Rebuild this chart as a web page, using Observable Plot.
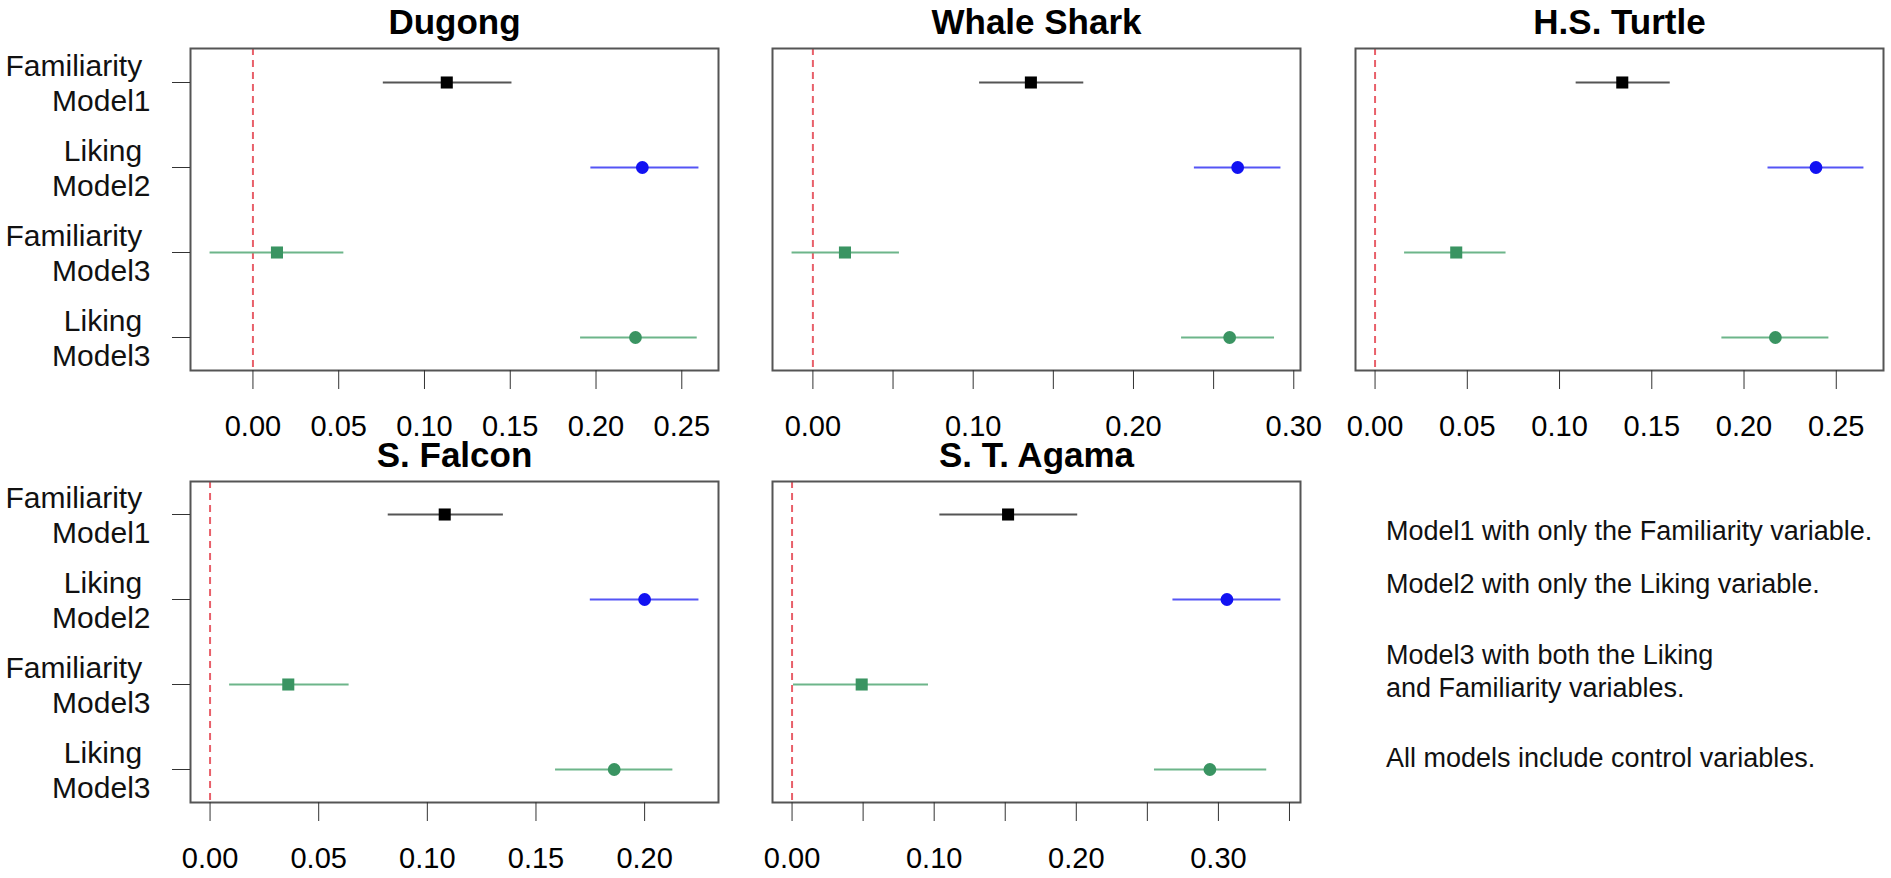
<!DOCTYPE html>
<html>
<head>
<meta charset="utf-8">
<script src="https://cdn.jsdelivr.net/npm/d3@7"></script>
<script src="https://cdn.jsdelivr.net/npm/@observablehq/plot@0.6"></script>
<style>
  html, body { margin: 0; padding: 0; background: #ffffff; }
  #chart { position: relative; width: 1891px; height: 878px; overflow: hidden; background: #fff;
           font-family: "Liberation Sans", Arial, Helvetica, sans-serif; }
  #chart > svg, #chart > figure { position: absolute; margin: 0; }
</style>
</head>
<body>
<div id="chart"></div>
<script>
// ---------------- data ----------------
const species = ["Dugong", "Whale Shark", "H.S. Turtle", "S. Falcon", "S. T. Agama"];
const rowKeys = ["Fam1", "Lik2", "Fam3", "Lik3"];
const rowLabels = ["Familiarity\u00a0\nModel1", "Liking\u00a0\nModel2", "Familiarity\u00a0\nModel3", "Liking\u00a0\nModel3"];
const rowVariables = ["Familiarity", "Liking", "Familiarity", "Liking"];
const pointColors = ["#000000", "#1212f2", "#3a9462", "#3a9462"];
const lineColors = ["#555555", "#5555f5", "#6db58a", "#6db58a"];

// estimates per species, rows: Fam M1, Lik M2, Fam M3, Lik M3
const estimates = [
  [0.113, 0.227, 0.014, 0.223],
  [0.136, 0.265, 0.020, 0.260],
  [0.134, 0.239, 0.044, 0.217],
  [0.108, 0.200, 0.036, 0.186],
  [0.152, 0.306, 0.049, 0.294]
];
const lowers = [
  [0.076, 0.197, -0.025, 0.191],
  [0.104, 0.238, -0.013, 0.230],
  [0.109, 0.213, 0.016, 0.188],
  [0.082, 0.175, 0.009, 0.159],
  [0.104, 0.268, 0.001, 0.255]
];
const uppers = [
  [0.151, 0.260, 0.053, 0.259],
  [0.169, 0.292, 0.054, 0.288],
  [0.160, 0.265, 0.071, 0.246],
  [0.135, 0.225, 0.064, 0.213],
  [0.201, 0.344, 0.096, 0.334]
];
const tickValues = [
  [0, 0.05, 0.10, 0.15, 0.20, 0.25],
  [0, 0.05, 0.10, 0.15, 0.20, 0.25, 0.30],
  [0, 0.05, 0.10, 0.15, 0.20, 0.25],
  [0, 0.05, 0.10, 0.15, 0.20],
  [0, 0.05, 0.10, 0.15, 0.20, 0.25, 0.30, 0.35]
];
const tickLabels = [
  ["0.00", "0.05", "0.10", "0.15", "0.20", "0.25"],
  ["0.00", "0.10", "0.20", "0.30"],
  ["0.00", "0.05", "0.10", "0.15", "0.20", "0.25"],
  ["0.00", "0.05", "0.10", "0.15", "0.20"],
  ["0.00", "0.10", "0.20", "0.30"]
];
const legendLines = [
  "Model1 with only the Familiarity variable.",
  "Model2 with only the Liking variable.",
  "Model3 with both the Liking",
  "and Familiarity variables.",
  "All models include control variables."
];

// ---------------- layout ----------------
const layout = [
  {left: 0,    top: 0,   width: 745, height: 440, mL: 190, mR: 27, mT: 48, mB: 70, yAxis: true},
  {left: 745,  top: 0,   width: 583, height: 440, mL: 27,  mR: 28, mT: 48, mB: 70, yAxis: false},
  {left: 1328, top: 0,   width: 563, height: 440, mL: 27,  mR: 8,  mT: 48, mB: 70, yAxis: false},
  {left: 0,    top: 440, width: 745, height: 438, mL: 190, mR: 27, mT: 41, mB: 76, yAxis: true},
  {left: 745,  top: 440, width: 583, height: 438, mL: 27,  mR: 28, mT: 41, mB: 76, yAxis: false}
];

const fmt = d3.format(".2f");
const chart = document.getElementById("chart");
const FONT = "'Liberation Sans', Arial, Helvetica, sans-serif";

species.forEach((name, i) => {
  const L = layout[i];
  const data = rowKeys.map((k, j) => ({
    key: k, label: rowLabels[j], est: estimates[i][j], lo: lowers[i][j], hi: uppers[i][j],
    shape: rowVariables[j] === "Familiarity" ? "square" : "circle",
    pc: pointColors[j], lc: lineColors[j]
  }));
  const lo0 = Math.min(0, d3.min(lowers[i]));
  const hi0 = d3.max(uppers[i]);
  const pad = 0.04 * (hi0 - lo0);
  const labelSet = new Set(tickLabels[i]);

  const marks = [
    Plot.ruleX([0], {stroke: "#e8606a", strokeWidth: 2, strokeDasharray: "7,5"}),
    Plot.ruleY(data, {x1: "lo", x2: "hi", y: "key", stroke: "lc", strokeWidth: 2}),
    Plot.dot(data.filter(d => d.shape === "square"), {x: "est", y: "key", symbol: "square", r: 6.8, fill: "pc", stroke: null}),
    Plot.dot(data.filter(d => d.shape === "circle"), {x: "est", y: "key", symbol: "circle", r: 6.4, fill: "pc", stroke: null}),
    Plot.frame({stroke: "#555555", strokeWidth: 2}),
    Plot.axisX({ticks: tickValues[i], tickSize: 19, tickPadding: 26, fontSize: 29, stroke: "#333", label: null,
                tickFormat: d => labelSet.has(fmt(d)) ? fmt(d) : ""}),
    Plot.text([name], {frameAnchor: "top", text: d => d, dy: -15, lineAnchor: "bottom",
                       fontSize: 35, fontWeight: "bold", fill: "#000"})
  ];
  if (L.yAxis) {
    marks.push(Plot.axisY({tickSize: 18, tickFormat: () => "", stroke: "#333", label: null}));
    marks.push(Plot.text(data, {y: "key", text: "label", frameAnchor: "left", textAnchor: "end",
                                dx: -40, fontSize: 30, lineHeight: 1.17, fill: "#111"}));
  }

  const svg = Plot.plot({
    width: L.width, height: L.height,
    marginLeft: L.mL, marginRight: L.mR, marginTop: L.mT, marginBottom: L.mB,
    x: {domain: [lo0 - pad, hi0 + pad], label: null},
    y: {type: "point", domain: rowKeys, padding: 0.38, label: null, axis: L.yAxis ? undefined : null},
    color: {type: "identity"},
    style: {fontFamily: FONT, fontSize: "29px", background: "transparent", overflow: "visible", color: "#000"},
    marks
  });
  svg.style.left = L.left + "px";
  svg.style.top = L.top + "px";
  chart.appendChild(svg);
});

// legend text block (bottom right)
const legendSvg = d3.create("svg")
  .attr("width", 560).attr("height", 330)
  .style("position", "absolute").style("left", "1331px").style("top", "490px")
  .style("font-family", FONT);
const baselines = [50, 103, 174, 207, 277];
legendSvg.selectAll("text").data(legendLines).join("text")
  .attr("x", 55).attr("y", (d, k) => baselines[k])
  .attr("font-size", 27).attr("fill", "#111")
  .text(d => d);
chart.appendChild(legendSvg.node());
</script>
</body>
</html>
